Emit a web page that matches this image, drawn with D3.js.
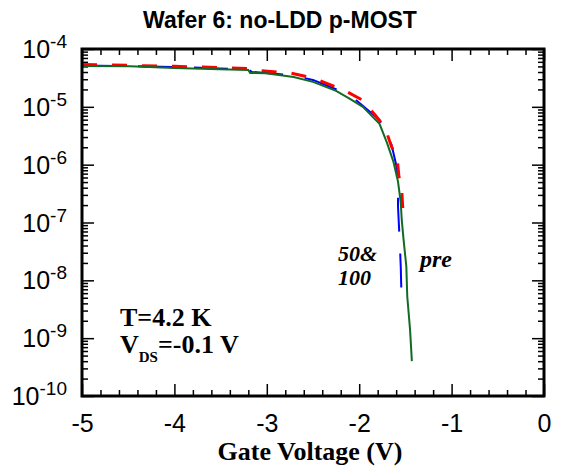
<!DOCTYPE html>
<html>
<head>
<meta charset="utf-8">
<script src="https://cdn.jsdelivr.net/npm/d3@7"></script>
<style>
  body { margin: 0; background: #fff; }
  svg { display: block; }
</style>
</head>
<body>
<div id="chart"></div>
<script>
// gate voltage (V) and drain current (A)
var vPre = [-5.00, -4.48, -4.00, -3.51, -3.20, -3.18, -3.01, -2.71, -2.50, -2.25, -2.10, -1.96,
  -1.78, -1.70, -1.63, -1.58, -1.55, -1.54, -1.52, -1.49, -1.48, -1.45, -1.43];
var iPre = [5.09e-5, 5.01e-5, 4.70e-5, 4.47e-5, 4.35e-5, 3.85e-5, 3.80e-5, 3.29e-5, 2.70e-5, 1.89e-5, 1.37e-5, 1.0e-5,
  5.09e-6, 2.40e-6, 1.13e-6, 5.09e-7, 2.21e-7, 1.13e-7, 5.09e-8, 1.74e-8, 5.30e-9, 1.43e-9, 4.01e-10];

var v100 = [-5.00, -4.00, -3.51, -3.20, -3.16, -2.75, -2.50, -2.21, -2.05, -1.78, -1.65, -1.60,
  -1.58, -1.58, -1.56, -1.55, -1.54];
var i100 = [5.20e-5, 4.90e-5, 4.61e-5, 4.44e-5, 4.01e-5, 3.56e-5, 2.92e-5, 1.89e-5, 1.37e-5, 5.97e-6, 2.21e-6, 1.0e-6,
  4.52e-7, 1.89e-7, 4.18e-8, 1.67e-8, 3.71e-9];

var v50 = [-5.00, -4.00, -3.50, -3.20, -3.16, -2.75, -2.50, -2.15, -1.97, -1.83, -1.72, -1.65,
  -1.59, -1.57, -1.54, -1.52];
var i50 = [5.41e-5, 5.01e-5, 4.79e-5, 4.61e-5, 4.35e-5, 3.85e-5, 3.16e-5, 1.89e-5, 1.32e-5, 7.28e-6, 4.35e-6, 2.04e-6,
  1.32e-6, 6.21e-7, 3.71e-7, 1.04e-7];

var xTicks = [-5, -4, -3, -2, -1, 0];
var yExps = [-4, -5, -6, -7, -8, -9, -10];

var svgWidth = 562;
var svgHeight = 467;
var margin = { top: 49, right: 18, bottom: 71, left: 82 };
var chartWidth = svgWidth - margin.left - margin.right;
var chartHeight = svgHeight - margin.top - margin.bottom;

var svg = d3.select("#chart")
  .append("svg")
  .attr("width", svgWidth)
  .attr("height", svgHeight);

var chartGroup = svg.append("g")
  .attr("transform", `translate(${margin.left}, ${margin.top})`);

var xScale = d3.scaleLinear().domain([-5, 0]).range([0, chartWidth]);
var yScale = d3.scaleLog().domain([1e-10, 1e-4]).range([chartHeight, 0]);

// minor tick values
var xMinor = d3.range(-5, 0.001, 0.2).filter(d => Math.abs(d - Math.round(d)) > 0.01);
var yMinor = [];
for (var e = -10; e < -4; e++) {
  for (var m = 2; m <= 9; m++) yMinor.push(m * Math.pow(10, e));
}

function styleAxis(g) {
  g.select(".domain").remove();
  g.selectAll("line").attr("stroke", "#000").attr("stroke-width", 1.5);
}

// major + minor ticks, pointing inward on all four sides
chartGroup.append("g").attr("transform", `translate(0, ${chartHeight})`)
  .call(d3.axisBottom(xScale).tickValues(xTicks).tickSizeInner(-12).tickSizeOuter(0).tickPadding(18).tickFormat(d => String(d)))
  .call(styleAxis)
  .call(g => g.selectAll("text").attr("font-family", "Arial, 'Liberation Sans', sans-serif").attr("font-size", 25).attr("fill", "#000"));
chartGroup.append("g").attr("transform", `translate(0, ${chartHeight})`)
  .call(d3.axisBottom(xScale).tickValues(xMinor).tickSize(-6).tickFormat(""))
  .call(styleAxis);
chartGroup.append("g")
  .call(d3.axisTop(xScale).tickValues(xTicks).tickSize(-12).tickFormat(""))
  .call(styleAxis);
chartGroup.append("g")
  .call(d3.axisTop(xScale).tickValues(xMinor).tickSize(-6).tickFormat(""))
  .call(styleAxis);

var yMajorVals = yExps.map(d => Math.pow(10, d));
chartGroup.append("g")
  .call(d3.axisLeft(yScale).tickValues(yMajorVals).tickSize(-12).tickFormat(""))
  .call(styleAxis);
chartGroup.append("g")
  .call(d3.axisLeft(yScale).tickValues(yMinor).tickSize(-6).tickFormat(""))
  .call(styleAxis);
chartGroup.append("g").attr("transform", `translate(${chartWidth}, 0)`)
  .call(d3.axisRight(yScale).tickValues(yMajorVals).tickSize(-12).tickFormat(""))
  .call(styleAxis);
chartGroup.append("g").attr("transform", `translate(${chartWidth}, 0)`)
  .call(d3.axisRight(yScale).tickValues(yMinor).tickSize(-6).tickFormat(""))
  .call(styleAxis);

// y labels 10^n
var yLab = chartGroup.selectAll(".ylab")
  .data(yExps)
  .enter()
  .append("text")
  .attr("class", "ylab")
  .attr("x", -15)
  .attr("y", d => yScale(Math.pow(10, d)) + 9)
  .attr("text-anchor", "end")
  .attr("font-family", "Arial, 'Liberation Sans', sans-serif")
  .attr("fill", "#000");
yLab.append("tspan").attr("font-size", 25).text("10");
yLab.append("tspan").attr("font-size", 19).attr("dy", -10).text(d => d);

// data lines
var line = d3.line()
  .x(d => xScale(d[0]))
  .y(d => yScale(d[1]));

chartGroup.append("path")
  .datum(d3.zip(v100, i100))
  .attr("d", line)
  .attr("fill", "none")
  .attr("stroke", "#0000ff")
  .attr("stroke-width", 2)
  .attr("stroke-dasharray", "34,22");

chartGroup.append("path")
  .datum(d3.zip(v50, i50))
  .attr("d", line)
  .attr("fill", "none")
  .attr("stroke", "#ff0000")
  .attr("stroke-width", 3)
  .attr("stroke-dasharray", "15,15");

chartGroup.append("path")
  .datum(d3.zip(vPre, iPre))
  .attr("d", line)
  .attr("fill", "none")
  .attr("stroke", "#116b24")
  .attr("stroke-width", 2);

// frame
chartGroup.append("rect")
  .attr("width", chartWidth)
  .attr("height", chartHeight)
  .attr("fill", "none")
  .attr("stroke", "#000")
  .attr("stroke-width", 3);

// title
svg.append("text")
  .attr("x", 280)
  .attr("y", 28)
  .attr("text-anchor", "middle")
  .attr("font-family", "Arial, 'Liberation Sans', sans-serif")
  .attr("font-weight", "bold")
  .attr("font-size", 23)
  .text("Wafer 6: no-LDD p-MOST");

// x axis label
svg.append("text")
  .attr("x", 310)
  .attr("y", 460)
  .attr("text-anchor", "middle")
  .attr("font-family", "'Liberation Serif', 'Times New Roman', serif")
  .attr("font-weight", "bold")
  .attr("font-size", 26)
  .text("Gate Voltage (V)");

// annotations
var serif = "'Liberation Serif', 'Times New Roman', serif";
svg.append("text")
  .attr("x", 120).attr("y", 326)
  .attr("font-family", serif).attr("font-weight", "bold").attr("font-size", 26)
  .text("T=4.2 K");

var vds = svg.append("text")
  .attr("x", 120).attr("y", 353)
  .attr("font-family", serif).attr("font-weight", "bold").attr("font-size", 26);
vds.append("tspan").text("V");
vds.append("tspan").attr("font-size", 15).attr("dy", 9).text("DS");
vds.append("tspan").attr("dy", -9).text("=-0.1 V");

svg.append("text")
  .attr("x", 338).attr("y", 261)
  .attr("font-family", serif).attr("font-weight", "bold").attr("font-style", "italic").attr("font-size", 22)
  .text("50&");
svg.append("text")
  .attr("x", 338).attr("y", 285)
  .attr("font-family", serif).attr("font-weight", "bold").attr("font-style", "italic").attr("font-size", 22)
  .text("100");

svg.append("text")
  .attr("x", 420).attr("y", 267)
  .attr("font-family", serif).attr("font-weight", "bold").attr("font-style", "italic").attr("font-size", 24)
  .text("pre");
</script>
</body>
</html>
